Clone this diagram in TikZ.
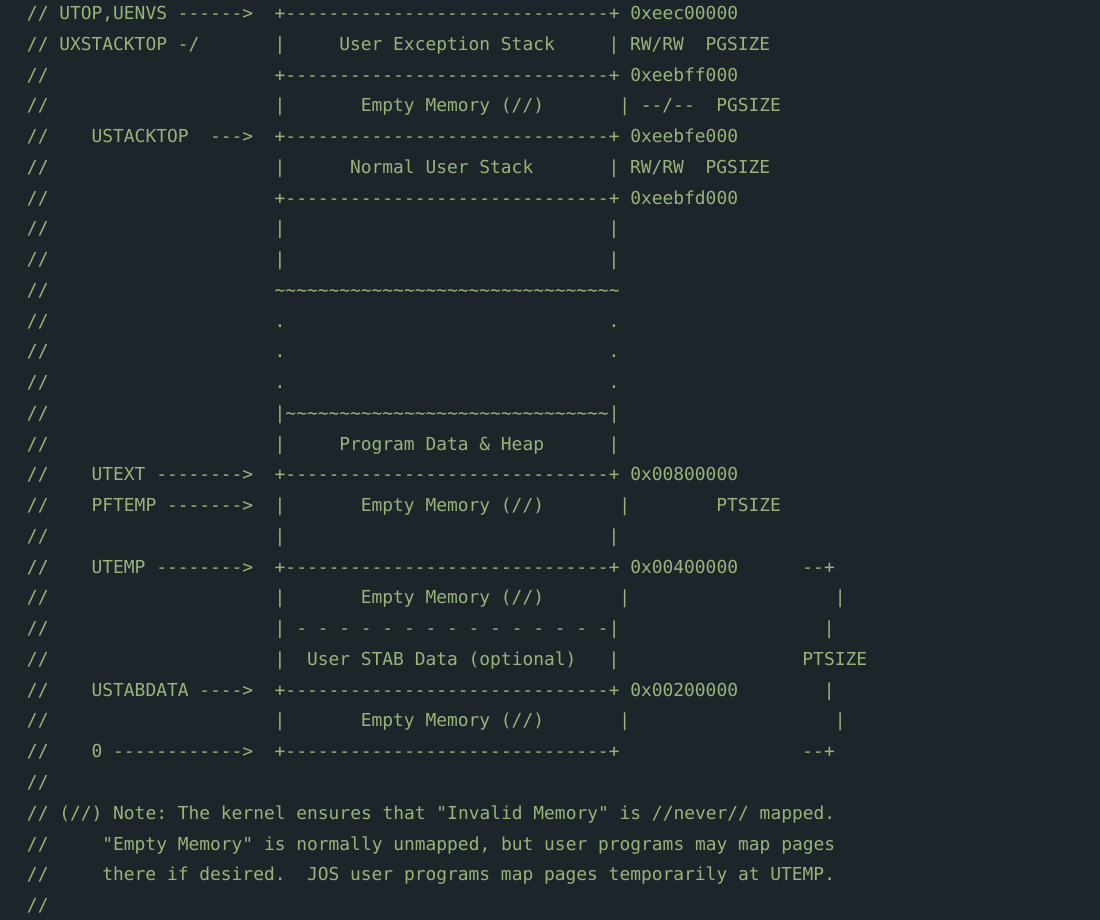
\documentclass[tikz,border=0pt]{standalone}
\usepackage{fontspec}
\setmonofont{DejaVu Sans Mono}
\frenchspacing

\definecolor{codebg}{RGB}{29,37,43}
\definecolor{codegreen}{RGB}{152,180,122}

\tikzset{codetext/.style={anchor=base west, inner sep=0pt, outer sep=0pt,
    text=codegreen, font=\ttfamily\fontsize{17.9}{30}\selectfont}}

% character grid of the listing
\newcommand\colw{10.77}
\newcommand\colx{27}
\newcommand\rowh{30.76}
\newcommand\rowy{19.5}
\newcommand\codeat[3]{\node[codetext] (r#1c#2) at ({\colx+#2*\colw},{\rowy+(#1-1)*\rowh}) {#3};}
\newcommand\tildes[1]{\foreach \i in {1,...,#1}{\textasciitilde}}

\begin{document}
\begin{tikzpicture}[x=1pt,y=-1pt]
    %% background
    \fill[codebg] (0,0) rectangle (1100,920);
    \useasboundingbox (0,0) rectangle (1100,920);

    % comment marks on every line
    \foreach \r in {1,...,30} {
        \codeat{\r}{0}{//}
    }

    %% top of user space
    \codeat{1}{3}{UTOP,UENVS ------>}
    \codeat{1}{23}{+------------------------------+ 0xeec00000}
    \codeat{2}{3}{UXSTACKTOP -/}
    \codeat{2}{23}{|}
    \codeat{2}{29}{User Exception Stack}
    \codeat{2}{54}{| RW/RW}
    \codeat{2}{63}{PGSIZE}
    \codeat{3}{23}{+------------------------------+ 0xeebff000}
    \codeat{4}{23}{|}
    \codeat{4}{31}{Empty Memory (//)}
    \codeat{4}{55}{| --/--}
    \codeat{4}{64}{PGSIZE}
    \codeat{5}{6}{USTACKTOP}
    \codeat{5}{17}{--->}
    \codeat{5}{23}{+------------------------------+ 0xeebfe000}
    \codeat{6}{23}{|}
    \codeat{6}{30}{Normal User Stack}
    \codeat{6}{54}{| RW/RW}
    \codeat{6}{63}{PGSIZE}
    \codeat{7}{23}{+------------------------------+ 0xeebfd000}

    %% stack growing down
    \foreach \r in {8,9,18} {
        \codeat{\r}{23}{|}
        \codeat{\r}{54}{|}
    }
    \codeat{10}{23}{\tildes{32}}
    \foreach \r in {11,12,13} {
        \codeat{\r}{23}{.}
        \codeat{\r}{54}{.}
    }
    \codeat{14}{23}{|\tildes{30}|}
    \codeat{15}{23}{|}
    \codeat{15}{29}{Program Data \& Heap}
    \codeat{15}{54}{|}

    %% low memory
    \codeat{16}{6}{UTEXT -------->}
    \codeat{16}{23}{+------------------------------+ 0x00800000}
    \codeat{17}{6}{PFTEMP ------->}
    \codeat{17}{23}{|}
    \codeat{17}{31}{Empty Memory (//)}
    \codeat{17}{55}{|}
    \codeat{17}{64}{PTSIZE}
    \codeat{19}{6}{UTEMP -------->}
    \codeat{19}{23}{+------------------------------+ 0x00400000}
    \codeat{19}{72}{--+}
    \foreach \r in {20,24} {
        \codeat{\r}{23}{|}
        \codeat{\r}{31}{Empty Memory (//)}
        \codeat{\r}{55}{|}
        \codeat{\r}{75}{|}
    }
    \codeat{21}{23}{| - - - - - - - - - - - - - - -|}
    \codeat{21}{74}{|}
    \codeat{22}{23}{|}
    \codeat{22}{26}{User STAB Data (optional)}
    \codeat{22}{54}{|}
    \codeat{22}{72}{PTSIZE}
    \codeat{23}{6}{USTABDATA ---->}
    \codeat{23}{23}{+------------------------------+ 0x00200000}
    \codeat{23}{74}{|}
    \codeat{25}{6}{0 ------------>}
    \codeat{25}{23}{+------------------------------+}
    \codeat{25}{72}{--+}

    %% note
    \codeat{27}{3}{(//) Note: The kernel ensures that "Invalid Memory" is //never// mapped.}
    \codeat{28}{7}{"Empty Memory" is normally unmapped, but user programs may map pages}
    \codeat{29}{7}{there if desired.}
    \codeat{29}{26}{JOS user programs map pages temporarily at UTEMP.}
\end{tikzpicture}
\end{document}
